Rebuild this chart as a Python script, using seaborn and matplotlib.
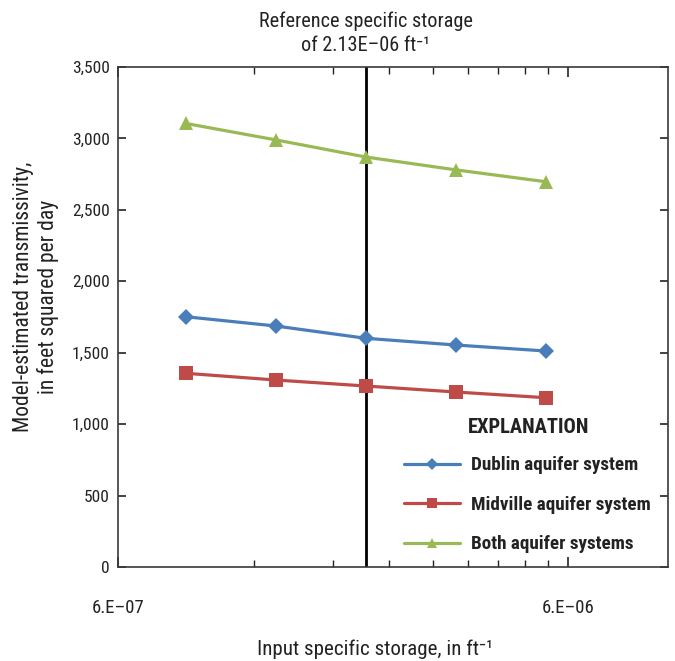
import matplotlib
matplotlib.use("Agg")
import matplotlib.pyplot as plt
import matplotlib.ticker as mticker
from matplotlib import font_manager
import seaborn as sns
import pandas as pd

sns.set_theme(style="ticks")
fl = font_manager.fontManager.ttflist
names = {f.name for f in fl}
condensed = None
for cand in ["Roboto Condensed", "Liberation Sans Narrow", "Open Sans Condensed", "Arial Narrow"]:
    if cand in names:
        condensed = (cand, "normal")
        break
if condensed is None:
    for f in fl:
        if f.name in ("DejaVu Sans", "Noto Sans", "Open Sans", "Roboto") and str(f.stretch) in ("condensed", "semi-condensed", "75", "87.5"):
            condensed = (f.name, "condensed")
            break
if condensed:
    plt.rcParams['font.family'] = [condensed[0], 'DejaVu Sans']
    plt.rcParams['font.stretch'] = condensed[1]
    K = 1.12
else:
    plt.rcParams['font.family'] = ['Liberation Sans', 'DejaVu Sans']
    K = 1.0

# Data
storage = [8.48e-07, 1.344e-06, 2.13e-06, 3.376e-06, 5.35e-06]
dublin = [1752, 1687, 1601, 1554, 1512]
midville = [1356, 1309, 1267, 1225, 1185]
both = [3105, 2990, 2870, 2780, 2697]
series_names = ["Dublin aquifer system", "Midville aquifer system", "Both aquifer systems"]
colors = ["#4A7EBB", "#BE4B48", "#98B954"]
markers = ["D", "s", "^"]
ref_storage = 2.13e-06
x_ticks = [6e-07, 6e-06]
x_tick_labels = ["6.E\u201307", "6.E\u201306"]

fig = plt.figure(figsize=(6.75, 6.61), dpi=100)
ax = fig.add_axes([118/675, 1-567/661, 550/675, 500/661])

for name, vals, c, m in zip(series_names, [dublin, midville, both], colors, markers):
    df = pd.DataFrame({"storage": storage, "T": vals})
    ms = 8 if m == "D" else 9.5
    sns.lineplot(data=df, x="storage", y="T", ax=ax, color=c, marker=m,
                 markersize=ms, linewidth=2.3, markeredgewidth=0, label=name)

ax.axvline(ref_storage, color="black", linewidth=2.0, zorder=1)

ax.set_xscale("log")
ax.set_xlim(6e-07, 1.0e-05)
ax.set_ylim(0, 3500)
ax.xaxis.set_major_locator(mticker.FixedLocator(x_ticks))
ax.xaxis.set_major_formatter(mticker.FixedFormatter(x_tick_labels))
ax.xaxis.set_minor_locator(mticker.FixedLocator([k * 6e-07 for k in range(2, 10)]))
ax.xaxis.set_minor_formatter(mticker.NullFormatter())
ax.yaxis.set_major_locator(mticker.MultipleLocator(500))
ax.yaxis.set_major_formatter(mticker.FuncFormatter(lambda v, p: f"{int(v):,}"))

for s in ax.spines.values():
    s.set_visible(True)
    s.set_color("#3a3a3a")
    s.set_linewidth(1.2)

ax.tick_params(axis="x", which="major", direction="in", length=7, width=1.2,
               top=True, bottom=True, pad=23, labelsize=13.5, colors="#222222")
ax.tick_params(axis="x", which="minor", direction="in", length=5, width=1.0,
               top=True, bottom=True, colors="#222222")
ax.tick_params(axis="y", which="major", direction="in", length=6, width=1.2,
               left=True, right=True, pad=6, labelsize=12.5, colors="#222222")

ax.set_xlabel("Input specific storage, in ft\u207b\u00b9", fontsize=13.5 * K, color="#222222")
ax.xaxis.set_label_coords(0.467, -0.145)
ax.set_ylabel("Model-estimated transmissivity,\nin feet squared per day", fontsize=15.5,
              color="#222222", linespacing=1.2)
ax.yaxis.set_label_coords(-0.107, 0.54)

ax.text(ref_storage, 1.025, "Reference specific storage\nof 2.13E\u201306 ft\u207b\u00b9",
        transform=ax.get_xaxis_transform(), ha="center", va="bottom", fontsize=13 * K,
        color="#222222", linespacing=1.3)

leg = ax.legend(loc="lower right", bbox_to_anchor=(1.0, -0.007), frameon=False,
                fontsize=13.8, labelspacing=1.12, handlelength=2.9,
                handletextpad=0.6, markerscale=0.8)
for t in leg.get_texts():
    t.set_fontweight("bold")
    t.set_color("#222222")
ax.text(0.636, 0.28, "EXPLANATION", transform=ax.transAxes, ha="left", va="center",
        fontsize=13.2 * K, fontweight="bold", color="#222222")

fig.savefig("out.png", dpi=100)
